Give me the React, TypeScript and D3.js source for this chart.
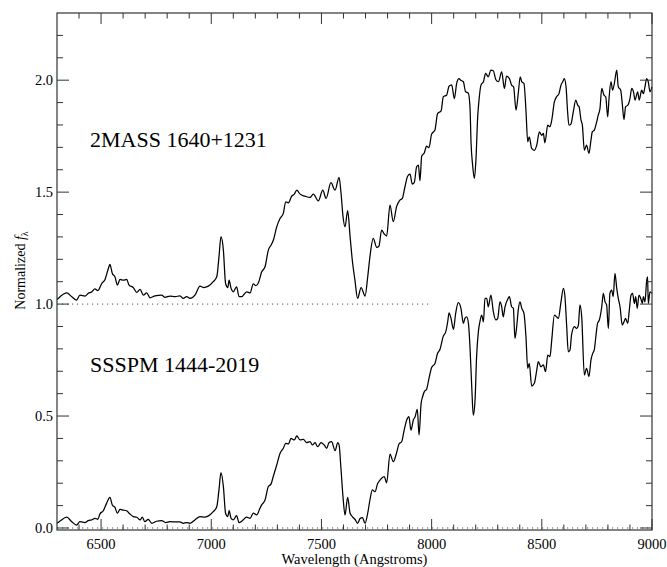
import React from 'react';
import * as d3 from 'd3';

// Plot frame (page pixels)
const W = 667;
const H = 567;
const plotLeft = 57;
const plotRight = 652;
const plotTop = 13;
const plotBottom = 530;

const xDomain: [number, number] = [6300, 9000];
const yDomain: [number, number] = [-0.009, 2.3];

const xMajorTicks = [6500, 7000, 7500, 8000, 8500, 9000];
const yMajorTicks = [0.0, 0.5, 1.0, 1.5, 2.0];

const xLabel = 'Wavelength (Angstroms)';
const spectrumNames = ['2MASS 1640+1231', 'SSSPM 1444-2019'];

// Reference flux levels drawn as dotted lines: [level, wavelength start, wavelength end]
const referenceLevels: [number, number, number][] = [
  [1.0, 6300, 8000],
  [0.0, 6300, 9000],
];

// 2MASS 1640+1231: [wavelength (Å), normalized flux]
const spectrumA: [number, number][] = [
  [6300, 1.02], [6314, 1.033], [6344, 1.05], [6367, 1.033], [6389, 1.018], [6404, 1.04],
  [6427, 1.036], [6442, 1.048], [6457, 1.054], [6472, 1.068], [6485, 1.06], [6503, 1.092],
  [6518, 1.11], [6533, 1.159], [6540, 1.177], [6551, 1.137], [6563, 1.122], [6574, 1.085],
  [6586, 1.11], [6601, 1.107], [6616, 1.11], [6627, 1.085], [6646, 1.074], [6662, 1.052],
  [6677, 1.066], [6692, 1.04], [6707, 1.05], [6722, 1.028], [6745, 1.037], [6775, 1.04],
  [6790, 1.03], [6813, 1.036], [6836, 1.033], [6858, 1.037], [6873, 1.025], [6888, 1.033],
  [6904, 1.025], [6926, 1.04], [6949, 1.08], [6964, 1.074], [6987, 1.08], [7009, 1.1],
  [7025, 1.122], [7035, 1.211], [7044, 1.301], [7055, 1.241], [7065, 1.092], [7075, 1.074],
  [7081, 1.107], [7090, 1.07], [7100, 1.055], [7115, 1.077], [7126, 1.033], [7138, 1.033],
  [7161, 1.055], [7176, 1.05], [7191, 1.09], [7203, 1.082], [7214, 1.095], [7229, 1.144],
  [7244, 1.167], [7259, 1.241], [7271, 1.263], [7282, 1.286], [7297, 1.345], [7312, 1.382],
  [7327, 1.405], [7338, 1.457], [7350, 1.452], [7365, 1.482], [7377, 1.491], [7388, 1.509],
  [7403, 1.491], [7425, 1.482], [7448, 1.476], [7463, 1.491], [7486, 1.461], [7506, 1.509],
  [7521, 1.472], [7543, 1.542], [7562, 1.509], [7580, 1.566], [7589, 1.494], [7598, 1.39],
  [7607, 1.345], [7619, 1.417], [7630, 1.301], [7640, 1.196], [7652, 1.107], [7664, 1.025],
  [7680, 1.074], [7698, 1.036], [7710, 1.122], [7720, 1.211], [7735, 1.293], [7751, 1.253],
  [7761, 1.259], [7773, 1.33], [7785, 1.313], [7796, 1.304], [7811, 1.442], [7826, 1.368],
  [7841, 1.435], [7856, 1.464], [7867, 1.472], [7879, 1.524], [7891, 1.571], [7902, 1.58],
  [7912, 1.536], [7921, 1.542], [7932, 1.613], [7940, 1.621], [7947, 1.551], [7955, 1.661],
  [7967, 1.676], [7977, 1.705], [7988, 1.699], [8000, 1.759], [8015, 1.777], [8027, 1.851],
  [8043, 1.863], [8053, 1.926], [8068, 1.933], [8079, 1.973], [8091, 1.979], [8103, 1.918],
  [8114, 1.988], [8124, 2.007], [8132, 2.0], [8144, 1.993], [8154, 1.948], [8166, 1.943],
  [8174, 1.881], [8179, 1.717], [8186, 1.621], [8194, 1.561], [8201, 1.643], [8209, 1.836],
  [8215, 1.911], [8224, 1.978], [8235, 1.993], [8245, 2.03], [8257, 2.015], [8269, 2.045],
  [8280, 2.042], [8291, 2.003], [8303, 1.993], [8318, 2.037], [8330, 1.963], [8340, 2.018],
  [8353, 2.007], [8363, 1.978], [8372, 1.97], [8383, 1.866], [8393, 1.94], [8402, 2.015],
  [8409, 1.993], [8419, 1.985], [8428, 1.866], [8436, 1.725], [8443, 1.747], [8454, 1.695],
  [8466, 1.687], [8477, 1.71], [8489, 1.769], [8499, 1.754], [8507, 1.762], [8514, 1.72],
  [8527, 1.799], [8537, 1.792], [8545, 1.821], [8557, 1.903], [8567, 1.926], [8578, 1.94],
  [8587, 1.978], [8595, 1.993], [8602, 2.007], [8610, 1.97], [8617, 1.859], [8623, 1.799],
  [8632, 1.804], [8643, 1.859], [8654, 1.911], [8663, 1.888], [8669, 1.881], [8678, 1.821],
  [8684, 1.799], [8693, 1.687], [8703, 1.71], [8714, 1.673], [8723, 1.732], [8729, 1.769],
  [8738, 1.777], [8749, 1.814], [8756, 1.844], [8764, 1.874], [8772, 1.963], [8782, 1.933],
  [8790, 1.926], [8799, 1.836], [8805, 1.918], [8814, 1.993], [8821, 1.955], [8829, 1.985],
  [8840, 2.045], [8847, 1.97], [8858, 1.955], [8865, 1.896], [8873, 1.824], [8880, 1.881],
  [8890, 1.888], [8900, 1.918], [8908, 1.963], [8917, 1.943], [8923, 1.911], [8935, 1.948],
  [8942, 1.911], [8953, 1.955], [8961, 1.94], [8968, 1.97], [8976, 2.007], [8983, 1.993],
  [8991, 1.948], [9000, 1.97],
];

// SSSPM 1444-2019: [wavelength (Å), normalized flux]
const spectrumB: [number, number][] = [
  [6300, 0.021], [6314, 0.031], [6344, 0.048], [6367, 0.028], [6389, 0.013], [6404, 0.028],
  [6427, 0.024], [6442, 0.033], [6457, 0.036], [6472, 0.043], [6485, 0.039], [6495, 0.063],
  [6510, 0.077], [6525, 0.11], [6540, 0.137], [6551, 0.103], [6563, 0.092], [6574, 0.066],
  [6586, 0.083], [6601, 0.08], [6616, 0.077], [6627, 0.066], [6646, 0.051], [6662, 0.048],
  [6677, 0.036], [6687, 0.048], [6699, 0.028], [6714, 0.039], [6730, 0.021], [6752, 0.03],
  [6775, 0.033], [6793, 0.024], [6813, 0.028], [6836, 0.027], [6858, 0.027], [6873, 0.021],
  [6888, 0.024], [6904, 0.021], [6926, 0.036], [6949, 0.051], [6969, 0.048], [6987, 0.054],
  [7009, 0.073], [7025, 0.095], [7035, 0.17], [7044, 0.247], [7055, 0.185], [7065, 0.066],
  [7075, 0.051], [7081, 0.077], [7090, 0.043], [7100, 0.036], [7115, 0.055], [7126, 0.024],
  [7138, 0.03], [7161, 0.048], [7176, 0.043], [7191, 0.066], [7206, 0.058], [7221, 0.088],
  [7229, 0.103], [7244, 0.125], [7259, 0.185], [7271, 0.196], [7282, 0.232], [7297, 0.281],
  [7312, 0.333], [7327, 0.356], [7338, 0.378], [7350, 0.375], [7362, 0.4], [7377, 0.393],
  [7388, 0.411], [7403, 0.393], [7418, 0.396], [7433, 0.381], [7448, 0.386], [7459, 0.371],
  [7471, 0.381], [7483, 0.363], [7498, 0.381], [7512, 0.371], [7524, 0.356], [7534, 0.381],
  [7546, 0.386], [7562, 0.345], [7574, 0.381], [7580, 0.371], [7589, 0.259], [7599, 0.125],
  [7607, 0.058], [7619, 0.137], [7630, 0.066], [7640, 0.051], [7652, 0.039], [7664, 0.021],
  [7676, 0.043], [7686, 0.046], [7698, 0.021], [7710, 0.066], [7720, 0.125], [7731, 0.17],
  [7743, 0.162], [7755, 0.199], [7766, 0.214], [7773, 0.222], [7785, 0.229], [7796, 0.202],
  [7811, 0.33], [7826, 0.296], [7841, 0.336], [7852, 0.375], [7864, 0.385], [7875, 0.435],
  [7887, 0.482], [7897, 0.497], [7906, 0.437], [7917, 0.482], [7925, 0.497], [7935, 0.53],
  [7943, 0.415], [7952, 0.554], [7959, 0.586], [7967, 0.609], [7977, 0.619], [7988, 0.668],
  [8000, 0.717], [8015, 0.735], [8027, 0.78], [8038, 0.798], [8053, 0.857], [8064, 0.876],
  [8073, 0.921], [8079, 0.961], [8088, 0.936], [8099, 0.887], [8109, 0.958], [8121, 1.006],
  [8133, 0.981], [8144, 0.914], [8151, 0.936], [8159, 0.943], [8167, 0.914], [8174, 0.81],
  [8182, 0.631], [8189, 0.504], [8197, 0.571], [8204, 0.765], [8212, 0.876], [8219, 0.921],
  [8227, 0.951], [8235, 0.921], [8242, 1.025], [8250, 1.025], [8257, 0.988], [8269, 1.04],
  [8280, 0.966], [8291, 0.929], [8300, 0.936], [8310, 1.01], [8318, 0.988], [8325, 0.943],
  [8333, 0.988], [8345, 1.021], [8353, 1.033], [8363, 0.988], [8371, 0.981], [8378, 0.847],
  [8386, 0.899], [8393, 0.973], [8401, 1.01], [8409, 0.981], [8419, 0.958], [8428, 0.854],
  [8436, 0.713], [8443, 0.735], [8454, 0.634], [8466, 0.646], [8477, 0.705], [8484, 0.743],
  [8496, 0.72], [8507, 0.728], [8517, 0.698], [8527, 0.772], [8537, 0.765], [8545, 0.839],
  [8557, 0.951], [8567, 0.943], [8575, 0.936], [8587, 1.01], [8598, 1.07], [8605, 1.033],
  [8613, 0.899], [8620, 0.787], [8628, 0.795], [8635, 0.862], [8648, 0.899], [8658, 0.891],
  [8666, 0.906], [8673, 0.996], [8681, 0.943], [8693, 0.683], [8703, 0.713], [8714, 0.676],
  [8723, 0.75], [8731, 0.78], [8738, 0.795], [8746, 0.862], [8753, 0.914], [8761, 0.929],
  [8772, 0.988], [8779, 1.048], [8787, 1.01], [8794, 0.996], [8802, 0.891], [8809, 1.048],
  [8817, 1.062], [8824, 1.033], [8832, 1.137], [8840, 1.07], [8847, 1.025], [8855, 0.988],
  [8865, 0.906], [8873, 0.921], [8880, 0.936], [8890, 0.914], [8897, 0.973], [8905, 1.04],
  [8912, 1.048], [8920, 1.003], [8926, 1.033], [8933, 0.981], [8941, 1.04], [8949, 1.025],
  [8956, 1.003], [8961, 1.033], [8968, 1.01], [8976, 1.107], [8980, 1.122], [8983, 1.003],
  [8991, 1.055], [9000, 1.048],
];

const FONT = '"Liberation Serif", "Times New Roman", serif';
const AXIS_COLOR = '#333';

export default function App() {
  const x = d3.scaleLinear().domain(xDomain).range([plotLeft, plotRight]);
  const y = d3.scaleLinear().domain(yDomain).range([plotBottom, plotTop]);

  const line = d3
    .line<[number, number]>()
    .x((d) => x(d[0]))
    .y((d) => y(d[1]))
    .curve(d3.curveMonotoneX);

  const xMinorTicks = d3
    .range(6400, 9000, 100)
    .filter((v) => !xMajorTicks.includes(v));
  const yMinorTicks = d3
    .range(1, 23)
    .map((i) => i / 10)
    .filter((v) => !yMajorTicks.some((m) => Math.abs(m - v) < 1e-6));

  const xMajorLen = 11;
  const xMinorLen = 5.5;
  const yMajorLen = 12;
  const yMinorLen = 6;

  return (
    <svg
      width={W}
      height={H}
      viewBox={`0 0 ${W} ${H}`}
      style={{ position: 'absolute', left: 0, top: 0, background: '#fff' }}
      fontFamily={FONT}
    >
      <rect x={0} y={0} width={W} height={H} fill="#fff" />

      {/* dotted reference levels */}
      {referenceLevels.map(([lvl, a, b], i) => (
        <line
          key={`ref${i}`}
          x1={x(a)}
          x2={x(b)}
          y1={y(lvl)}
          y2={y(lvl)}
          stroke="#555"
          strokeWidth={1}
          strokeDasharray="1.2,3.8"
        />
      ))}

      {/* spectra */}
      {[spectrumA, spectrumB].map((s, i) => (
        <path
          key={`spec${i}`}
          d={line(s) || ''}
          fill="none"
          stroke="#000"
          strokeWidth={1.25}
          strokeLinejoin="round"
        />
      ))}

      {/* frame */}
      <rect
        x={plotLeft}
        y={plotTop}
        width={plotRight - plotLeft}
        height={plotBottom - plotTop}
        fill="none"
        stroke={AXIS_COLOR}
        strokeWidth={1.2}
      />

      {/* x ticks, bottom and top */}
      {xMajorTicks.map((v) => (
        <g key={`xM${v}`}>
          <line x1={x(v)} x2={x(v)} y1={plotBottom} y2={plotBottom - xMajorLen} stroke={AXIS_COLOR} />
          <line x1={x(v)} x2={x(v)} y1={plotTop} y2={plotTop + xMajorLen} stroke={AXIS_COLOR} />
          <text
            x={x(v)}
            y={plotBottom + 18.5}
            textAnchor="middle"
            fontSize={14.5}
            fill="#000"
          >
            {v}
          </text>
        </g>
      ))}
      {xMinorTicks.map((v) => (
        <g key={`xm${v}`}>
          <line x1={x(v)} x2={x(v)} y1={plotBottom} y2={plotBottom - xMinorLen} stroke={AXIS_COLOR} />
          <line x1={x(v)} x2={x(v)} y1={plotTop} y2={plotTop + xMinorLen} stroke={AXIS_COLOR} />
        </g>
      ))}

      {/* y ticks, left and right */}
      {yMajorTicks.map((v) => (
        <g key={`yM${v}`}>
          <line x1={plotLeft} x2={plotLeft + yMajorLen} y1={y(v)} y2={y(v)} stroke={AXIS_COLOR} />
          <line x1={plotRight} x2={plotRight - yMajorLen} y1={y(v)} y2={y(v)} stroke={AXIS_COLOR} />
          <text
            x={plotLeft - 4}
            y={y(v) + 5}
            textAnchor="end"
            fontSize={14.5}
            fill="#000"
          >
            {v.toFixed(1)}
          </text>
        </g>
      ))}
      {yMinorTicks.map((v) => (
        <g key={`ym${v}`}>
          <line x1={plotLeft} x2={plotLeft + yMinorLen} y1={y(v)} y2={y(v)} stroke={AXIS_COLOR} />
          <line x1={plotRight} x2={plotRight - yMinorLen} y1={y(v)} y2={y(v)} stroke={AXIS_COLOR} />
        </g>
      ))}

      {/* axis titles */}
      <text
        x={(plotLeft + plotRight) / 2}
        y={H - 3}
        textAnchor="middle"
        fontSize={14.5}
        fill="#000"
      >
        {xLabel}
      </text>
      <text
        transform={`translate(25, ${(plotTop + plotBottom) / 2 - 1}) rotate(-90)`}
        textAnchor="middle"
        fontSize={14}
        fill="#000"
      >
        Normalized{' '}
        <tspan fontStyle="italic">f</tspan>
        <tspan fontSize={10} dy={3}>λ</tspan>
      </text>

      {/* spectrum names */}
      <text x={90} y={147} fontSize={22} fill="#000">
        {spectrumNames[0]}
      </text>
      <text x={90} y={372} fontSize={22} fill="#000">
        {spectrumNames[1]}
      </text>
    </svg>
  );
}
